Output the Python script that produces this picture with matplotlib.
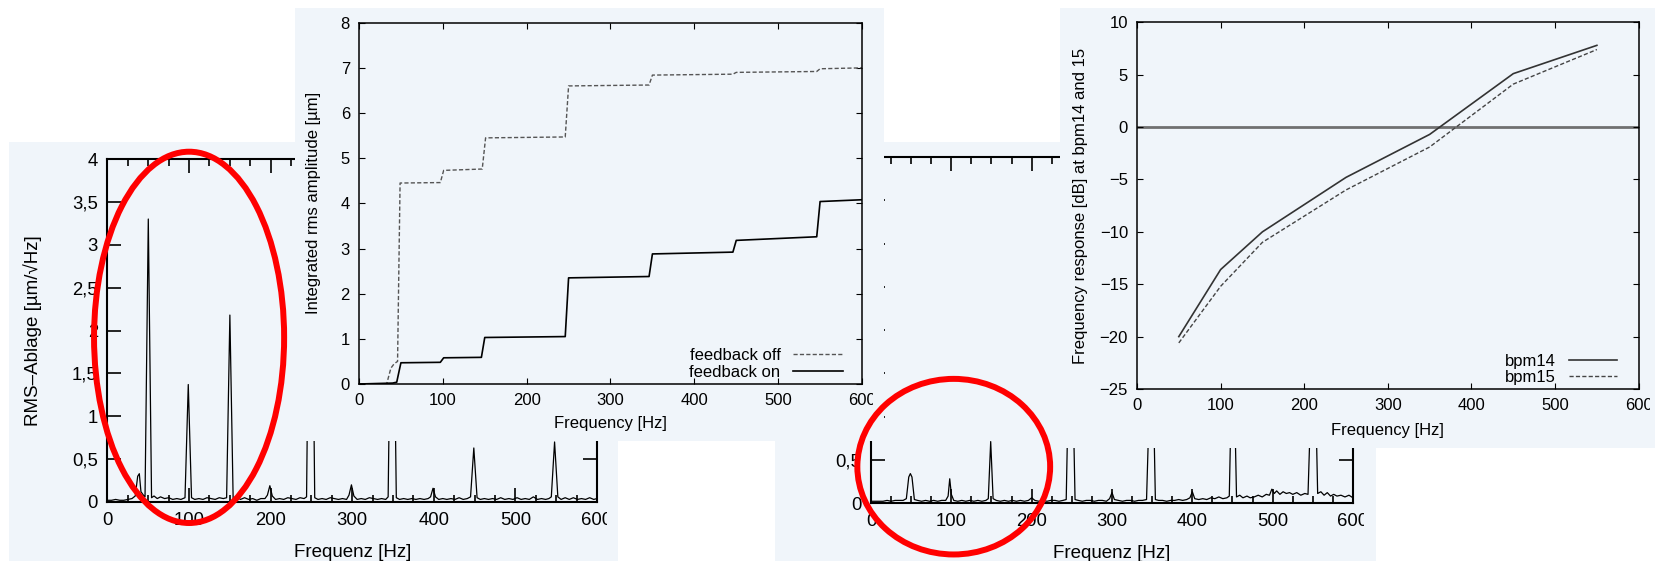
import matplotlib.pyplot as plt
from matplotlib.patches import Rectangle, Ellipse
from matplotlib.ticker import MultipleLocator
from matplotlib.transforms import Bbox, TransformedBbox

plt.rcParams['font.family'] = ['Liberation Sans', 'DejaVu Sans']

# RMS spectrum, feedback off (Hz, um/sqrt(Hz))
spec_off = [
    (0, 0.02), (5, 0.02), (10, 0.03), (15, 0.02), (20, 0.02), (25, 0.03), (30, 0.04),
    (34, 0.07), (37, 0.30), (39, 0.33), (41, 0.12), (44, 0.08), (46, 0.06),
    (50, 3.30), (54, 0.05), (57, 0.07), (61, 0.04), (65, 0.06), (70, 0.04), (75, 0.05),
    (80, 0.03), (85, 0.04), (90, 0.03), (95, 0.05), (99, 1.37), (103, 0.05), (107, 0.03),
    (112, 0.04), (117, 0.03), (122, 0.05), (127, 0.04), (132, 0.03), (137, 0.05),
    (142, 0.04), (146, 0.05), (150, 2.18), (154, 0.04), (158, 0.06), (163, 0.03),
    (168, 0.05), (173, 0.03), (178, 0.04), (183, 0.02), (188, 0.04), (193, 0.04),
    (196, 0.08), (199, 0.19), (202, 0.07), (206, 0.03), (211, 0.04), (216, 0.03),
    (221, 0.05), (226, 0.04), (231, 0.03), (236, 0.05), (241, 0.04), (244, 0.06),
    (246, 1.90), (252, 1.90), (254, 0.05), (258, 0.03), (263, 0.04), (268, 0.03),
    (273, 0.05), (278, 0.04), (283, 0.03), (288, 0.04), (293, 0.03), (296, 0.08),
    (299, 0.20), (302, 0.07), (306, 0.03), (311, 0.04), (316, 0.03), (321, 0.05),
    (326, 0.04), (331, 0.03), (336, 0.04), (341, 0.03), (344, 0.06), (346, 1.60),
    (352, 1.60), (354, 0.05), (358, 0.03), (363, 0.04), (368, 0.03), (373, 0.04),
    (378, 0.03), (383, 0.04), (388, 0.03), (393, 0.04), (396, 0.06), (399, 0.16),
    (402, 0.06), (406, 0.03), (411, 0.04), (416, 0.03), (421, 0.04), (426, 0.03),
    (431, 0.05), (436, 0.03), (441, 0.04), (445, 0.06), (449, 0.63), (453, 0.05),
    (457, 0.03), (462, 0.04), (467, 0.03), (472, 0.04), (477, 0.03), (482, 0.05),
    (487, 0.03), (492, 0.04), (497, 0.03), (502, 0.05), (507, 0.03), (512, 0.04),
    (517, 0.03), (522, 0.06), (527, 0.03), (532, 0.04), (537, 0.03), (541, 0.04),
    (544, 0.06), (548, 0.70), (552, 0.06), (556, 0.03), (561, 0.05), (566, 0.03),
    (571, 0.05), (576, 0.03), (581, 0.04), (586, 0.03), (591, 0.05), (596, 0.03),
    (600, 0.04),
]

# RMS spectrum, feedback on
spec_on = [
    (0, 0.02), (5, 0.02), (10, 0.02), (15, 0.02), (20, 0.03), (25, 0.02), (30, 0.03),
    (35, 0.03), (40, 0.03), (44, 0.05), (47, 0.30), (49, 0.34), (51, 0.30), (54, 0.04),
    (58, 0.03), (63, 0.02), (68, 0.03), (73, 0.02), (78, 0.03), (83, 0.02), (88, 0.03),
    (93, 0.03), (96, 0.08), (98, 0.28), (100, 0.10), (103, 0.03), (108, 0.02),
    (113, 0.03), (118, 0.02), (123, 0.03), (128, 0.02), (133, 0.03), (138, 0.02),
    (143, 0.03), (146, 0.05), (149, 0.71), (152, 0.05), (156, 0.03), (161, 0.02),
    (166, 0.03), (171, 0.02), (176, 0.03), (181, 0.02), (186, 0.03), (191, 0.02),
    (196, 0.03), (200, 0.06), (204, 0.03), (209, 0.02), (214, 0.03), (219, 0.02),
    (224, 0.03), (229, 0.03), (234, 0.02), (239, 0.03), (243, 0.04), (245, 1.00),
    (252, 1.00), (254, 0.04), (258, 0.03), (263, 0.02), (268, 0.03), (273, 0.03),
    (278, 0.02), (283, 0.03), (288, 0.03), (293, 0.02), (297, 0.05), (300, 0.12),
    (303, 0.04), (308, 0.03), (313, 0.02), (318, 0.03), (323, 0.03), (328, 0.02),
    (333, 0.03), (338, 0.03), (343, 0.04), (346, 1.00), (352, 1.00), (354, 0.04),
    (358, 0.03), (363, 0.03), (368, 0.02), (373, 0.03), (378, 0.03), (383, 0.04),
    (388, 0.03), (393, 0.04), (397, 0.06), (400, 0.13), (403, 0.05), (408, 0.04),
    (413, 0.05), (418, 0.04), (423, 0.06), (428, 0.05), (433, 0.07), (438, 0.05),
    (443, 0.06), (446, 0.08), (448, 1.00), (453, 1.00), (455, 0.07), (459, 0.09),
    (463, 0.06), (468, 0.08), (472, 0.06), (477, 0.07), (482, 0.09), (487, 0.07),
    (492, 0.10), (496, 0.09), (499, 0.16), (502, 0.11), (505, 0.14), (509, 0.10),
    (513, 0.13), (517, 0.11), (521, 0.12), (525, 0.10), (530, 0.12), (535, 0.09),
    (540, 0.11), (544, 0.10), (547, 1.00), (554, 1.00), (556, 0.11), (560, 0.13),
    (564, 0.09), (568, 0.12), (572, 0.08), (576, 0.10), (580, 0.08), (585, 0.09),
    (590, 0.07), (595, 0.09), (600, 0.06),
]

# integrated rms amplitude (Hz, um)
rms_off = [
    (0, 0), (33, 0), (38, 0.35), (42, 0.45), (46, 0.50), (47.5, 2.5), (49, 4.45),
    (97, 4.46), (101, 4.73), (147, 4.76), (151, 5.45), (246, 5.47), (250, 6.60),
    (346, 6.62), (350, 6.84), (446, 6.86), (450, 6.90), (546, 6.92), (550, 6.98),
    (600, 7.00),
]
rms_on = [
    (0, 0), (40, 0.02), (45, 0.04), (48, 0.30), (50, 0.47), (97, 0.48), (101, 0.58),
    (146, 0.59), (150, 1.03), (246, 1.05), (250, 2.35), (346, 2.38), (350, 2.88),
    (446, 2.92), (450, 3.18), (546, 3.26), (550, 4.04), (600, 4.08),
]

# frequency response at bpm14 / bpm15
resp_freq = [50, 100, 150, 250, 350, 450, 550]
resp_bpm14 = [-20.0, -13.6, -10.0, -4.8, -0.7, 5.1, 7.8]
resp_bpm15 = [-20.6, -15.2, -11.0, -6.0, -1.9, 4.1, 7.4]

spec_yticks = [0, 0.5, 1, 1.5, 2, 2.5, 3, 3.5, 4]
spec_ylabels = ['0', '0,5', '1', '1,5', '2', '2,5', '3', '3,5', '4']

# red rings: centre (Hz, value), width (Hz), height (value)
ring_off = ((100, 1.92), 233, 4.33)
ring_on = ((103, 0.42), 240, 2.03)

W, H = 1656, 561
BG = '#f0f5fa'

fig = plt.figure(figsize=(W / 100, H / 100), dpi=100)


def px_rect(x0, y0, x1, y1):
    # pixel box, origin top-left -> [left, bottom, width, height] in figure fraction
    return [x0 / W, 1 - y1 / H, (x1 - x0) / W, (y1 - y0) / H]


def add_sheet(box, z):
    l, b, w, h = px_rect(*box)
    fig.add_artist(Rectangle((l, b), w, h, transform=fig.transFigure,
                             facecolor=BG, edgecolor='none', zorder=z))


def clip_ticklabels(ax, box):
    l, b, w, h = px_rect(*box)
    bb = TransformedBbox(Bbox.from_bounds(l, b, w, h), fig.transFigure)
    for t in ax.xaxis.get_major_ticks() + ax.yaxis.get_major_ticks():
        t.label1.set_clip_box(bb)
        t.label1.set_clip_on(True)


def spectrum_panel(rect, data, z, cut, ylabel=True):
    freq, amp = zip(*data)
    ax = fig.add_axes(px_rect(*rect), zorder=z)
    ax.set_facecolor('none')
    ax.plot(freq, amp, color='black', lw=0.9)
    ax.set_xlim(0, 600)
    ax.set_ylim(0, 4)
    ax.xaxis.set_major_locator(MultipleLocator(100))
    ax.xaxis.set_minor_locator(MultipleLocator(25))
    ax.set_yticks(spec_yticks, spec_ylabels)
    ax.tick_params(which='both', direction='in', top=True, right=True,
                   width=1.2, labelsize=13.3, pad=7)
    ax.tick_params(which='major', length=10)
    ax.tick_params(which='minor', length=5)
    for s in ax.spines.values():
        s.set_linewidth(1.5)
    ax.set_xlabel('Frequenz [Hz]', fontsize=13.5)
    ax.xaxis.set_label_coords(0.5, -0.122)
    if ylabel:
        ax.set_ylabel('RMS–Ablage [µm/√Hz]', fontsize=13.5)
        ax.yaxis.set_label_coords(-0.134, 0.5)
    clip_ticklabels(ax, cut)
    return ax


def small_ticks(ax):
    ax.tick_params(direction='in', top=True, right=True, length=4.3,
                   width=0.8, labelsize=12, pad=6.5)
    for s in ax.spines.values():
        s.set_linewidth(1.1)


# sheet 1: spectrum without feedback (bottom left)
add_sheet((9, 142, 618, 561), 0)
ax1 = spectrum_panel((107.5, 159, 597, 502), spec_off, 1, (9, 142, 607, 561))

# sheet 3: spectrum with feedback (bottom right); its y label sits under sheet 2
add_sheet((775, 142, 1376, 561), 2)
ax3 = spectrum_panel((871, 157, 1353, 503), spec_on, 3, (775, 142, 1364, 561),
                     ylabel=False)

# sheet 2: integrated rms amplitude (top middle)
add_sheet((295, 8, 884, 441), 4)
ax2 = fig.add_axes(px_rect(359, 22.7, 862, 384), zorder=5)
ax2.set_facecolor('none')
f, a = zip(*rms_off)
ax2.plot(f, a, color='#555555', lw=1.0, dashes=(3, 1.6), label='feedback off')
f, a = zip(*rms_on)
ax2.plot(f, a, color='black', lw=1.2, label='feedback on')
ax2.set_xlim(0, 600)
ax2.set_ylim(0, 8)
ax2.xaxis.set_major_locator(MultipleLocator(100))
ax2.yaxis.set_major_locator(MultipleLocator(1))
small_ticks(ax2)
ax2.set_xlabel('Frequency [Hz]', fontsize=12)
ax2.xaxis.set_label_coords(0.5, -0.0886)
ax2.set_ylabel('Integrated rms amplitude [µm]', fontsize=12)
ax2.yaxis.set_label_coords(-0.0746, 0.5)
ax2.legend(loc='lower right', bbox_to_anchor=(0.962, 0.012), frameon=False,
           markerfirst=False, handlelength=3.0, handletextpad=0.75,
           labelspacing=0.1, borderpad=0, borderaxespad=0, fontsize=12)
clip_ticklabels(ax2, (295, 8, 873, 441))

# sheet 4: frequency response (top right)
add_sheet((1060, 8, 1656, 448), 6)
ax4 = fig.add_axes(px_rect(1137, 22.3, 1638.7, 389), zorder=7)
ax4.set_facecolor('none')
ax4.axhline(0, color='#707070', lw=2.0, zorder=1)
ax4.plot(resp_freq, resp_bpm14, color='#333333', lw=1.2, label='bpm14', zorder=2)
ax4.plot(resp_freq, resp_bpm15, color='#444444', lw=1.0, dashes=(3, 1.6),
         label='bpm15', zorder=2)
ax4.set_xlim(0, 600)
ax4.set_ylim(-25, 10)
ax4.xaxis.set_major_locator(MultipleLocator(100))
ax4.yaxis.set_major_locator(MultipleLocator(5))
small_ticks(ax4)
ax4.set_xlabel('Frequency [Hz]', fontsize=12)
ax4.xaxis.set_label_coords(0.5, -0.094)
ax4.set_ylabel('Frequency response [dB] at bpm14 and 15', fontsize=12)
ax4.yaxis.set_label_coords(-0.0967, 0.5)
ax4.legend(loc='lower right', bbox_to_anchor=(0.957, 0.010), frameon=False,
           markerfirst=False, handlelength=2.9, handletextpad=0.75,
           labelspacing=0.08, borderpad=0, borderaxespad=0, fontsize=12)
clip_ticklabels(ax4, (1060, 8, 1650, 448))

# red highlight rings around the 100 Hz region
for ax, (centre, width, height) in ((ax1, ring_off), (ax3, ring_on)):
    fig.add_artist(Ellipse(centre, width, height, transform=ax.transData,
                           fill=False, edgecolor='#ff0000', lw=4.3, zorder=10),
                   clip=False)

fig.savefig('out.png', dpi=100)
